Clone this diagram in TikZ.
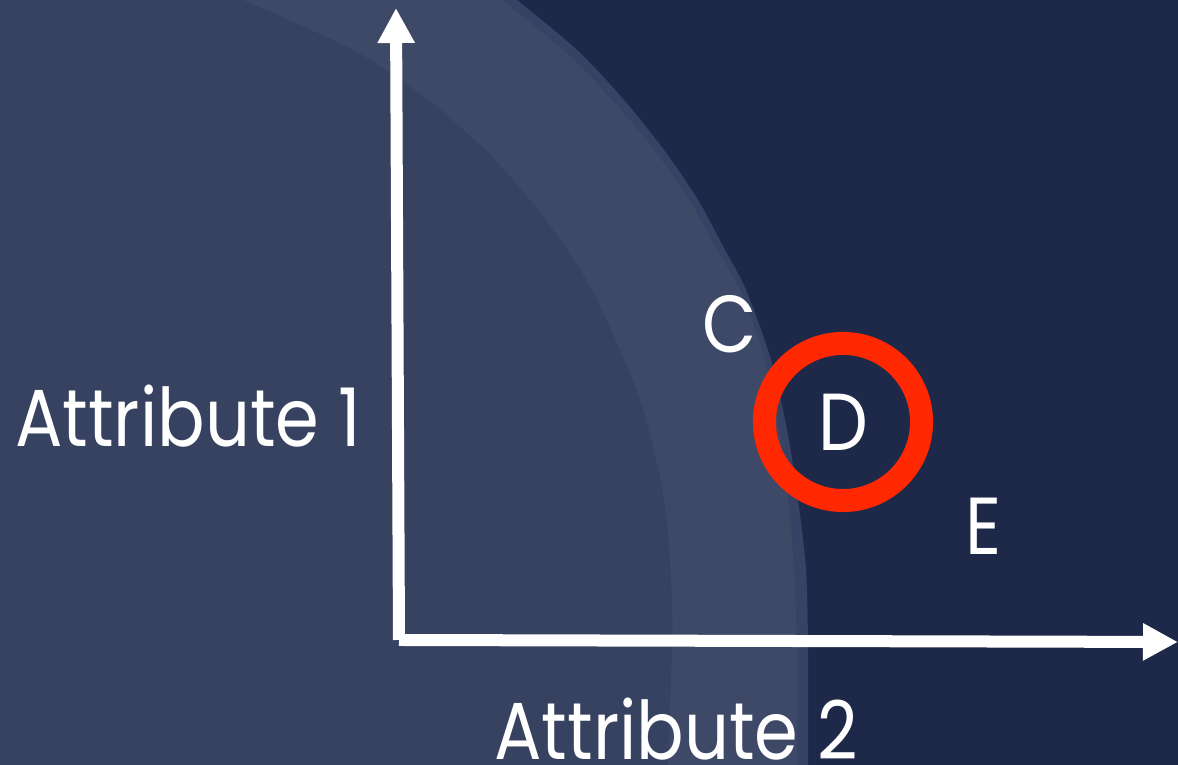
\documentclass[tikz,border=0pt]{standalone}
\usepackage{fontspec}
\setmainfont{Poppins}[FakeStretch=0.87]
\usepackage{tikz}
\usetikzlibrary{arrows.meta, positioning}

\definecolor{bgnavy}{RGB}{30,41,73}
\definecolor{coreblue}{RGB}{54,66,95}
\definecolor{bandblue}{RGB}{62,73,103}
\definecolor{rimblue}{RGB}{55,67,100}
\definecolor{ringred}{RGB}{255,40,0}

\begin{document}
\begin{tikzpicture}[
    x=0.01cm, y=-0.01cm,
    axis/.style={draw=white, line width=0.12cm, line join=miter,
        -{Triangle[length=0.35cm, width=0.35cm]}},
    lab/.style={text=white, anchor=base, inner sep=0pt,
        font=\fontsize{23}{28}\selectfont},
    pick/.style={circle, draw=ringred, line width=0.23cm, minimum size=1.57cm,
        inner sep=0pt, text=white, font=\fontsize{23}{28}\selectfont},
]

% ---- Canvas ----
\useasboundingbox (0,0) rectangle (1178,765);
\clip (0,0) rectangle (1178,765);
\fill[bgnavy] (0,0) rectangle (1178,765);

% ---- Shaded regions ----
\fill[rimblue] (-10,-20) -- (517,-20) -- plot[smooth] coordinates {(517,0) (577,50)
    (624,100) (664,150) (698,200) (725,250) (746,290) (771,360) (787,430)
    (798,500) (806,570) (808,650) (808,785)} -- (-10,785) -- cycle;
\fill[bandblue] (-10,-20) -- (502,-20) -- plot[smooth] coordinates {(502,0) (563,50)
    (612,100) (654,150) (689,200) (717,250) (740,290) (765,360) (779,430)
    (788,500) (794,570) (797,650) (797,785)} -- (-10,785) -- cycle;
\fill[coreblue] (-10,-20) -- (243,-20) -- plot[smooth] coordinates {(243,0) (353,50)
    (428,100) (485,150) (530,200) (567,250) (597,300) (640,400) (664,500)
    (672,600) (671,680) (667,785)} -- (-10,785) -- cycle;

% ---- Axes ----
\coordinate (orig) at (399,640);
\coordinate (ytip) at (396,8);
\coordinate (xtip) at (1178,642);
\draw[axis] (orig) -- (ytip);
\draw[axis] (orig) -- (xtip);

% ---- Labels ----
\node[lab] (attrone) at (188,447) {Attribute 1};
\node[lab] (attrtwo) at (676,760) {Attribute 2};
\node[lab] (labc) at (730,353) {C};
\node[lab] (labe) at (984,555) {E};

% ---- Picked point ----
\node[pick] (labd) at (843,422) {D};

\end{tikzpicture}
\end{document}
